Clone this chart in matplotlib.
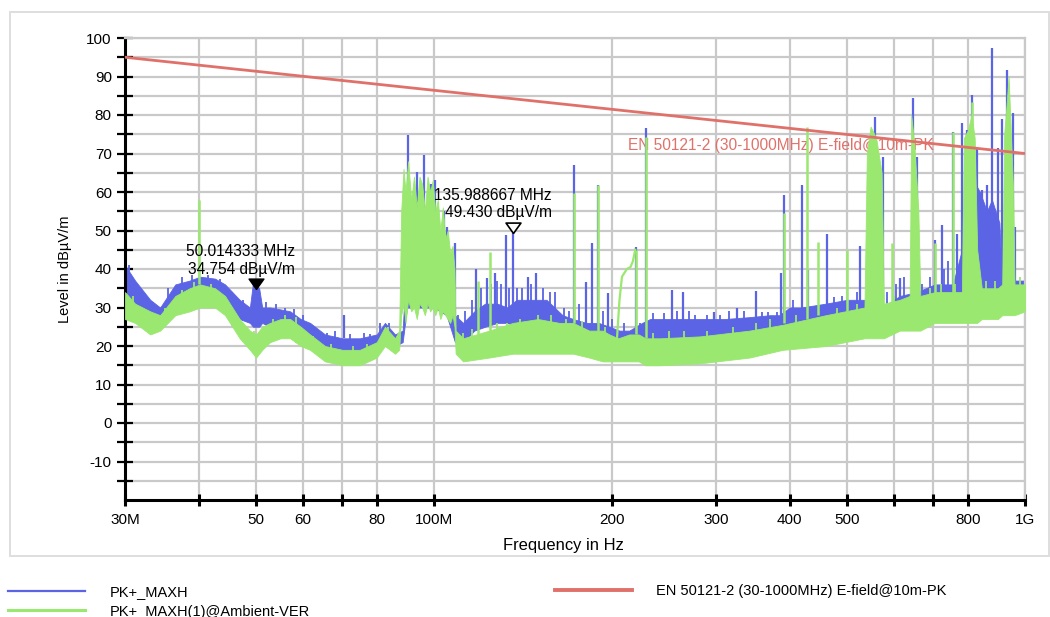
import matplotlib
matplotlib.use("Agg")
import matplotlib.pyplot as plt
import numpy as np
from matplotlib.lines import Line2D
from matplotlib.patches import Rectangle
from matplotlib.path import Path
from matplotlib.ticker import NullLocator

plt.rcParams['font.family'] = ['Liberation Sans', 'DejaVu Sans']

# PK+_MAXH (blue): noise band, frequency in MHz, level in dBuV/m
blue_f = [30, 31.2, 33.1, 34.4, 36.5, 38.6, 40.2, 42.6, 44.3, 46.9, 48.8, 49.4, 50.6, 51.2, 52.8, 55.0,
          57.1, 59.5, 61.7, 65.4, 70, 74.9, 80, 82.6, 85.9, 88.5, 90, 95, 100, 105, 108.5, 112, 117, 122,
          128, 133, 138, 145, 155, 165, 172, 181, 190, 198, 206, 214, 225, 232, 241, 260, 282, 310, 342, 370,
          384, 400, 418, 460, 500, 546, 575, 614, 656, 704, 755, 782, 800, 817, 825, 839, 862, 879, 905, 912,
          932, 962, 1000]
blue_lo = [31, 29, 27, 27, 31, 32, 33, 33, 31, 27, 26, 25, 25, 26, 25, 26,
           25, 23, 21, 19, 18, 18, 19, 22, 20, 21, 30, 30, 30, 28, 21, 21, 24, 25,
           26, 26, 25, 26, 26, 24, 23, 22, 22, 20, 20, 19, 20, 21, 21, 21, 21.5, 21.5, 22, 22,
           23, 25, 26, 26, 27, 27, 26, 27, 27, 29, 29, 32, 34, 35, 35, 35, 34, 34, 34, 32,
           31, 30, 30]
blue_hi = [41, 37, 32, 30, 36, 37, 38, 37.5, 36, 32, 30, 36.5, 35, 30, 30, 29.5,
           29, 27, 26, 23, 22, 22, 23, 26, 23, 24, 45, 45, 45, 40, 28, 26, 29, 31,
           31, 30, 32, 32, 32, 28, 27, 26, 26, 25, 24, 24, 26, 27, 27, 27, 27, 27, 27.5, 28,
           28, 30, 30, 31, 32, 32, 30, 33, 34, 36, 36, 45, 50, 55, 62, 60, 55, 58, 52, 40,
           38, 37, 37]

# blue single peaks: frequency, foot, top
blue_pk_f = [70.5, 90.4, 93.5, 96.2, 99, 100.5, 104, 105.3, 108.5, 118, 122.7, 126.7, 132.5, 136, 144,
             149, 172.5, 181, 185, 189.3, 197, 219.5, 228, 253, 264, 298, 325, 350, 387, 391, 420,
             430, 462, 526, 557, 562, 575, 614, 646, 656, 704, 724, 755, 766, 782, 797, 814, 830, 845,
             862, 879, 900, 916, 934, 953, 962]
blue_pk_lo = [22, 40, 40, 40, 40, 40, 40, 35, 26, 26, 26, 26, 26, 26, 26,
              26, 26, 24, 24, 24, 22, 22, 22, 24, 24, 24, 25, 26, 28, 28, 28,
              28, 30, 30, 32, 32, 32, 32, 32, 32, 34, 34, 34, 34, 34, 34, 40, 40, 40,
              40, 40, 40, 36, 36, 36, 34]
blue_pk_hi = [28, 74.8, 65.2, 69.6, 62, 63, 55, 51, 46.8, 40, 37.7, 39, 48.8, 49.43, 38,
              39, 67, 36.6, 46.8, 61.8, 33.8, 45.7, 76.6, 34.5, 34, 28.8, 29.8, 34.3, 39, 59.2, 61.8,
              39.7, 49, 46, 79.5, 68.8, 69, 37.7, 84.4, 69, 47.5, 51.4, 75.6, 49, 78, 76, 85.2, 71.7, 60.5,
              61.8, 97.4, 71.4, 79, 91.7, 80.5, 51]

# blue small noise peaks riding on the band
blue_gr_f = [30.5, 31.8, 33.5, 35.5, 37.5, 39, 41.5, 43.5, 45.5, 47.5, 52, 54, 56, 58, 60, 63, 66, 68,
             72, 76, 78, 81, 84, 110, 113, 116, 120, 125, 128, 130, 134, 138, 141, 146, 153, 157, 160,
             166, 169, 176, 193, 200, 210, 223, 235, 245, 258, 270, 276, 290, 305, 315, 335, 359, 368,
             380, 405, 475, 490, 520, 540, 585, 605, 625, 670, 690, 730, 740]
blue_gr_hi = [41, 35, 31.5, 35, 38, 38.5, 38.5, 37.5, 34, 32, 31.5, 31, 30, 29.5, 28, 25, 23.5, 24,
              23, 23.5, 23, 26, 26, 28, 29, 32, 35, 36, 37, 36, 35, 35, 35, 36, 35, 34, 34,
              30, 29, 31, 29, 27, 26, 26, 28.5, 28.5, 29, 29, 28, 28, 28, 29, 29, 28.8, 28.8,
              28.8, 32, 32.7, 33, 34, 35, 34, 36, 38, 36, 38, 40, 42]

# PK+_MAXH(1)@Ambient-VER (green)
green_f = [30, 31.2, 33.1, 34.4, 36.5, 38.6, 40.2, 42.6, 44.3, 46.9, 48.8, 50, 51.2, 52.8, 55, 57.1,
           59.5, 61.7, 65.4, 70, 74.9, 80, 82.6, 85.9, 87.3,
           88.0, 88.8, 89.5, 90.4, 91.5, 92.5, 93.5, 94.5, 95.5, 96.5, 97.5, 98.5, 99.5, 100.5, 101.5,
           102.5, 103.5, 104.5, 105.5, 106.5, 107.5, 108.3,
           108.8, 112, 124, 136, 150, 163, 172, 183, 193, 198, 205, 214, 222, 228, 241,
           282, 342, 389, 460, 535, 540, 548, 560, 572, 577, 614, 638, 642, 650, 660, 665, 704,
           782, 788, 800, 812, 822, 830, 845, 900, 915, 922, 930, 938, 945, 955, 960, 1000]
green_lo = [27, 26, 23, 24, 28, 29, 30, 30, 28, 22, 19, 17, 19, 21, 22, 22,
            20, 19, 16, 15, 15, 17, 20, 18, 19,
            28, 31, 26, 32, 29, 30, 27, 31, 30, 28, 31, 29, 30, 28, 30,
            27, 29, 28, 27, 26, 28, 25,
            18, 16, 17, 18, 18, 18, 18, 17, 16, 16, 16, 16, 16, 15, 15,
            15.5, 17, 19, 20, 22, 22, 22, 22, 22, 22, 24, 24, 24, 24, 24, 24, 26,
            26, 26, 26, 26, 26, 26, 27, 27, 28, 28, 28, 28, 28, 28, 28, 29]
green_hi = [34, 31, 29, 28, 33, 35, 36, 35, 33, 27, 24, 23, 25, 26, 27, 27,
            25, 23, 20, 19, 19, 21, 25, 22, 24,
            55, 66, 60, 68, 58, 64, 56, 64, 62, 55, 64, 60, 63, 55, 58,
            50, 56, 48, 50, 44, 46, 40,
            24, 22, 24, 26, 27, 26, 26, 24, 24, 23, 22, 23, 23, 22, 22,
            22.5, 24, 25.5, 28, 30, 70, 77, 74, 65, 31, 32, 33, 80, 72, 55, 33, 34,
            34, 74, 76, 80, 74, 45, 35, 35, 36, 75, 82, 90, 78, 60, 36, 36]

green_pk_f = [40, 118.5, 124.4, 172.5, 189.3, 219.5, 228, 391, 428, 446, 500, 596, 704, 755, 814]
green_pk_lo = [36, 23, 24, 26, 24, 23, 22, 26, 27, 28, 29, 31, 33, 34, 40]
green_pk_hi = [57.9, 37, 44.4, 59.7, 61.8, 45, 74.3, 54.5, 77, 47, 45, 46.7, 46.7, 75.6, 83.4]

# green small noise peaks
green_gr_f = [31, 35, 37.5, 39.3, 42, 45.5, 47.5, 49.5, 53.5, 56, 58.5, 62.5, 67, 73, 77, 83.5, 112,
              116, 128, 133, 140, 150, 158, 167, 178, 195, 235, 250, 265, 290, 320, 350, 370, 410,
              480, 520, 600, 690, 720, 760, 860, 890, 980]
green_gr_hi = [33, 30, 34.5, 36.5, 36, 30, 26, 24, 27, 28, 27.5, 22.5, 20.5, 20, 20.5, 25, 23.5,
               24.5, 26, 26, 27, 28, 28, 27, 26.5, 25, 23.5, 24, 24, 24, 25, 26, 27, 28,
               30, 31, 33, 35, 36, 36, 37, 37, 38]

# arch shaped ambient trace around 205-220 MHz
arch_f = [204, 206, 208, 212, 215, 217, 219]
arch_v = [22, 32, 38, 40, 40.5, 42, 45]

# limit line EN 50121-2
limit_f = [30, 1000]
limit_v = [95, 70]

# markers
mk_f = [50.014333, 135.988667]
mk_v = [34.754, 49.430]
mk_text = ["50.014333 MHz\n34.754 dBµV/m", "135.988667 MHz\n49.430 dBµV/m"]

xt_mhz = [30, 40, 50, 60, 70, 80, 100, 200, 300, 400, 500, 600, 700, 800, 1000]
xt_lab = ["30M", "", "50", "60", "", "80", "100M", "200", "300", "400", "500", "", "", "800", "1G"]

blue = "#5a64e4"
green = "#9ae870"
red = "#e0716a"

fig = plt.figure(figsize=(10.5, 6.17), dpi=100)
ax = fig.add_axes([125 / 1050, 1 - 500 / 617, 900 / 1050, 462 / 617])

mhz = 1e6
bgf = np.array(blue_gr_f)
ggf = np.array(green_gr_f)
ax.fill_between(np.array(blue_f) * mhz, blue_lo, blue_hi, color=blue, lw=0.6, zorder=2)
ax.vlines(np.array(blue_pk_f) * mhz, blue_pk_lo, blue_pk_hi, color=blue, lw=1.6, zorder=2)
ax.vlines(bgf * mhz, np.interp(bgf, blue_f, blue_lo), blue_gr_hi, color=blue, lw=1.3, zorder=2)
ax.fill_between(np.array(green_f) * mhz, green_lo, green_hi, color=green, lw=0.6, zorder=3)
ax.vlines(np.array(green_pk_f) * mhz, green_pk_lo, green_pk_hi, color=green, lw=1.8, zorder=3)
ax.vlines(ggf * mhz, np.interp(ggf, green_f, green_lo), green_gr_hi, color=green, lw=1.3, zorder=3)
ax.plot(np.array(arch_f) * mhz, arch_v, color=green, lw=1.6, zorder=3)
ax.plot(np.array(limit_f) * mhz, limit_v, color=red, lw=2.0, zorder=4)

ax.text(212.7 * mhz, 72.2, "EN 50121-2 (30-1000MHz) E-field@10m-PK", color=red,
        fontsize=11.2, ha="left", va="center", zorder=1.5)

# marker symbols, tip on the measured point
tri = Path([(0, 0), (-1, 1.4), (1, 1.4), (0, 0)])
ax.plot(mk_f[0] * mhz, mk_v[0], marker=tri, ms=15, color="black", ls="none", zorder=6)
ax.plot(mk_f[1] * mhz, mk_v[1], marker=tri, ms=15, mfc="white", mec="black", mew=1.2,
        ls="none", zorder=6)
for f, v, t in zip(mk_f, mk_v, mk_text):
    ax.annotate(t, (f * mhz, v), xytext=(28, 9), textcoords="offset points",
                ha="right", va="bottom", multialignment="right", fontsize=11.2, zorder=6)

ax.set_xscale("log")
ax.set_xlim(30 * mhz, 1000 * mhz)
ax.set_ylim(-20, 100)
ax.set_xticks(np.array(xt_mhz) * mhz, labels=xt_lab)
ax.xaxis.set_minor_locator(NullLocator())
yt = list(range(-15, 101, 5))
ax.set_yticks(yt, labels=[str(v) if v % 10 == 0 else "" for v in yt])

ax.set_axisbelow(True)
ax.grid(True, color="#c9c9c9", lw=1.6)
for s in ["top", "right"]:
    ax.spines[s].set_color("#c9c9c9")
    ax.spines[s].set_linewidth(1.6)
for s in ["left", "bottom"]:
    ax.spines[s].set_color("black")
    ax.spines[s].set_linewidth(2.2)
ax.tick_params(axis="y", direction="inout", length=11, width=1.6, labelsize=11, pad=4)
ax.tick_params(axis="x", direction="inout", length=8, width=2.2, labelsize=11, pad=5)

ax.set_xlabel("Frequency in Hz", fontsize=11.9, labelpad=8)
ax.xaxis.label.set_x((563 - 125) / 900)
ax.set_ylabel("Level in dBµV/m", fontsize=10.5, labelpad=10)

fig.add_artist(Rectangle((10 / 1050, 1 - 556 / 617), 1039 / 1050, 544 / 617,
                         transform=fig.transFigure, fill=False, ec="#dedede", lw=1.4))

h_blue = Line2D([], [], color=blue, lw=1.6)
h_green = Line2D([], [], color=green, lw=2.2)
h_red = Line2D([], [], color=red, lw=2.8)
fig.legend([h_blue, h_green], ["PK+_MAXH", "PK+_MAXH(1)@Ambient-VER"], loc="upper left",
           bbox_to_anchor=(8 / 1050, 1 - 585 / 617), frameon=False, fontsize=10.5,
           handlelength=5.3, handletextpad=1.7, labelspacing=0.38, borderpad=0,
           borderaxespad=0)
fig.legend([h_red], ["EN 50121-2 (30-1000MHz) E-field@10m-PK"], loc="upper left",
           bbox_to_anchor=(555 / 1050, 1 - 584 / 617), frameon=False, fontsize=10.5,
           handlelength=5.3, handletextpad=1.65, borderpad=0, borderaxespad=0)

fig.savefig("out.png", dpi=100)
